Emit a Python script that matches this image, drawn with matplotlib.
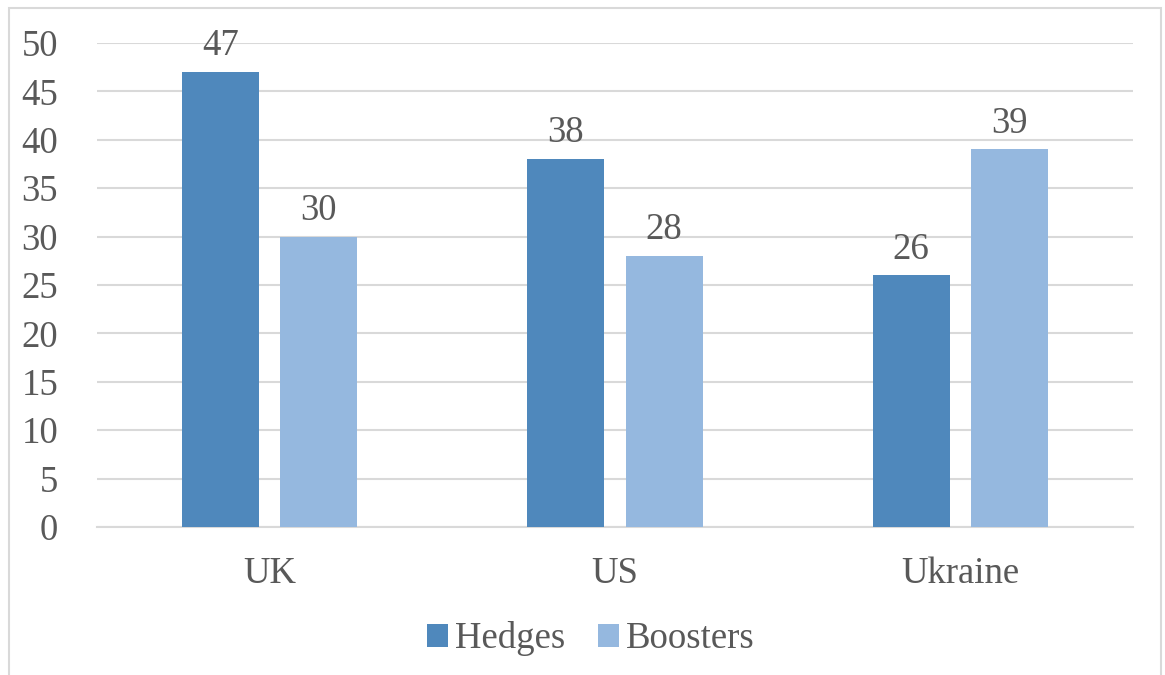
import matplotlib.pyplot as plt
import numpy as np
from matplotlib.patches import Rectangle

plt.rcParams['font.family'] = ['Liberation Serif', 'DejaVu Serif']

countries = ['UK', 'US', 'Ukraine']
hedges = [47, 38, 26]
boosters = [30, 28, 39]
series_names = ['Hedges', 'Boosters']

text_color = '#595959'
hedge_color = '#4F88BC'
booster_color = '#95B8DF'
fs = 26.5

fig = plt.figure(figsize=(11.65, 6.75), dpi=100)
ax = fig.add_axes([97/1165, 1 - 527/675, 1036/1165, 484/675])

# outer chart border like Excel
fig.patches.append(Rectangle((9/1165, -0.05), 1152/1165, 1.05 - 8/675,
                             transform=fig.transFigure, fill=False,
                             edgecolor='#D9D9D9', linewidth=1.5, zorder=0))

x = np.arange(len(countries))
w = 0.223
off = 0.142
b1 = ax.bar(x - off, hedges, width=w, color=hedge_color, label=series_names[0], zorder=3)
b2 = ax.bar(x + off, boosters, width=w, color=booster_color, label=series_names[1], zorder=3)

for bars in (b1, b2):
    for bar in bars:
        h = bar.get_height()
        ax.text(bar.get_x() + bar.get_width() / 2, h + 0.9, f'{h:.0f}',
                ha='center', va='bottom', fontsize=fs, color=text_color)

ax.set_xlim(-0.5, 2.5)
ax.set_ylim(0, 50)
ax.set_yticks(np.arange(0, 51, 5))
ax.set_xticks(x)
ax.set_xticklabels(countries)
ax.tick_params(axis='both', length=0, labelsize=fs, labelcolor=text_color)
ax.tick_params(axis='y', pad=28)
ax.tick_params(axis='x', pad=21)
ax.grid(True, axis='y', color='#D9D9D9', linewidth=1.5, zorder=0)
ax.set_axisbelow(True)
for s in ['top', 'right', 'left']:
    ax.spines[s].set_visible(False)
ax.spines['bottom'].set_color('#D9D9D9')
ax.spines['bottom'].set_linewidth(1.5)

leg = fig.legend(loc='center', bbox_to_anchor=(591/1165, 1 - 639/675), ncol=2,
                 frameon=False, fontsize=fs, handlelength=0.55, handleheight=0.55,
                 handletextpad=0.2, columnspacing=0.9)
for t in leg.get_texts():
    t.set_color(text_color)

plt.savefig('out.png', dpi=100, facecolor='white')
